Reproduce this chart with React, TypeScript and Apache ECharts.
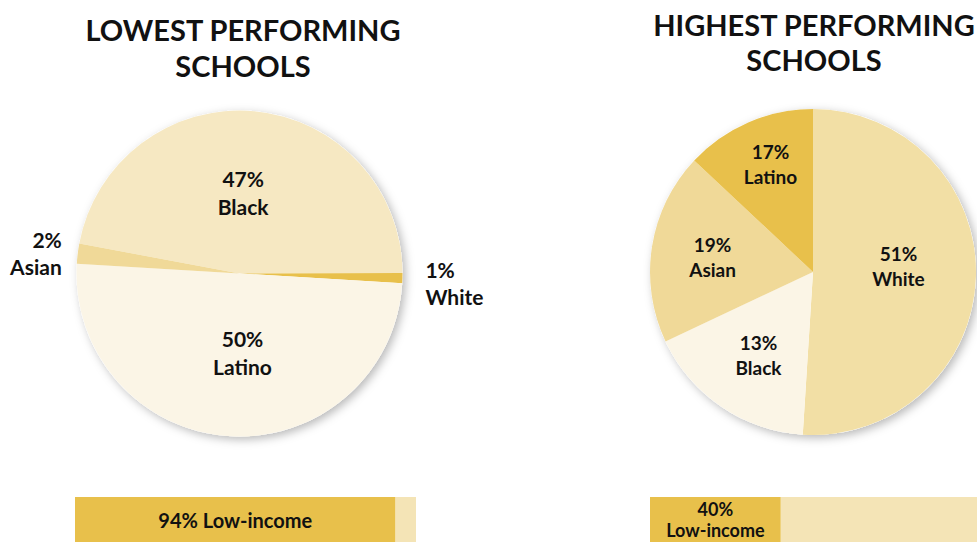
import React, { useEffect, useRef } from 'react';
import * as echarts from 'echarts';

// Lowest performing schools – racial breakdown (clockwise order)
const lowCategories = ['Black', 'White', 'Latino', 'Asian'];
const lowShares = [47, 1, 50, 2];
const lowColors = ['#F6E8C2', '#E8C04B', '#FBF5E6', '#F0D998'];

// Highest performing schools – racial breakdown (clockwise order)
const highCategories = ['White', 'Black', 'Asian', 'Latino'];
const highShares = [51, 17, 19, 13]; // slice sizes as drawn in the source
const highPrinted = [51, 13, 19, 17]; // percentages printed on the slices
const highColors = ['#F2DFA5', '#FBF5E6', '#F0D998', '#E8C04B'];

// Low-income share bars
const incomeLabel = 'Low-income';
const lowIncome = 94;
const highIncome = 40;

const FONT = 'Lato';

export default function App() {
  const ref = useRef<HTMLDivElement>(null);

  useEffect(() => {
    document.body.style.margin = '0';
    const chart = echarts.init(ref.current!, undefined, { renderer: 'svg' });

    const labelStyle = {
      fontFamily: FONT,
      fontWeight: 'bold' as const,
      color: '#111',
    };

    const lowOffsets: Record<number, [number, number]> = {
      0: [-4, 3],
      1: [0, 5],
      2: [8, -5],
      3: [0, 0],
    };
    const highOffsets: Record<number, [number, number]> = {
      0: [1, -9],
      1: [-7, 13],
      2: [-17, -2],
      3: [-9, -30],
    };

    const lowData = lowCategories.map((name, i) => {
      const outside = lowShares[i] < 5;
      return {
        name,
        value: lowShares[i],
        itemStyle: { color: lowColors[i] },
        label: outside
          ? {
              position: 'outside',
              fontSize: 21,
              lineHeight: 27,
            }
          : { position: 'inside', fontSize: 21, lineHeight: 28 },
        labelLine: outside
          ? { show: false, length: 8, length2: name === 'White' ? 10 : 3 }
          : { show: false },
      };
    });

    const highData = highCategories.map((name, i) => ({
      name,
      value: highShares[i],
      itemStyle: { color: highColors[i] },
    }));

    const backdrop = (center: [number, number]) => ({
      type: 'pie',
      center,
      radius: 163,
      silent: true,
      label: { show: false },
      labelLine: { show: false },
      itemStyle: {
        color: '#ffffff',
        shadowBlur: 10,
        shadowColor: 'rgba(0,0,0,0.28)',
        shadowOffsetX: 3,
        shadowOffsetY: 3,
      },
      data: [{ value: 1, name: '' }],
      z: 1,
    });

    const option: any = {
      animation: false,
      backgroundColor: '#ffffff',
      title: [
        {
          text: 'LOWEST PERFORMING\nSCHOOLS',
          left: 243,
          top: 11,
          padding: 0,
          textAlign: 'center',
          textStyle: { ...labelStyle, fontSize: 29, lineHeight: 36 },
        },
        {
          text: 'HIGHEST PERFORMING\nSCHOOLS',
          left: 814,
          top: 7,
          padding: 0,
          textAlign: 'center',
          textStyle: { ...labelStyle, fontSize: 29, lineHeight: 35 },
        },
      ],
      grid: [
        { left: 75, top: 497, width: 341, height: 50 },
        { left: 650, top: 497, width: 341, height: 50 },
      ],
      xAxis: [
        { type: 'value', gridIndex: 0, min: 0, max: 100, show: false },
        { type: 'value', gridIndex: 1, min: 0, max: 100, show: false },
      ],
      yAxis: [
        { type: 'category', gridIndex: 0, data: [incomeLabel], show: false },
        { type: 'category', gridIndex: 1, data: [incomeLabel], show: false },
      ],
      series: [
        backdrop([239.5, 273.5]),
        {
          type: 'pie',
          center: [239.5, 273.5],
          radius: 163,
          startAngle: 169.4,
          clockwise: true,
          avoidLabelOverlap: false,
          z: 2,
          itemStyle: { borderWidth: 0 },
          label: {
            ...labelStyle,
            formatter: (p: any) => `${p.value}%\n${p.name}`,
          },
          labelLayout: (p: any) => {
            const o = lowOffsets[p.dataIndex] || [0, 0];
            return { dx: o[0], dy: o[1] };
          },
          emphasis: { disabled: true },
          data: lowData,
        },
        backdrop([813, 272]),
        {
          type: 'pie',
          center: [813, 272],
          radius: 163,
          startAngle: 90,
          clockwise: true,
          avoidLabelOverlap: false,
          z: 2,
          itemStyle: { borderWidth: 0 },
          label: {
            ...labelStyle,
            position: 'inside',
            fontSize: 19,
            lineHeight: 25,
            formatter: (p: any) => `${highPrinted[p.dataIndex]}%\n${p.name}`,
          },
          labelLine: { show: false },
          labelLayout: (p: any) => {
            const o = highOffsets[p.dataIndex] || [0, 0];
            return { dx: o[0], dy: o[1] };
          },
          emphasis: { disabled: true },
          data: highData,
        },
        {
          type: 'bar',
          xAxisIndex: 0,
          yAxisIndex: 0,
          stack: 'low',
          barCategoryGap: 0,
          barWidth: '100%',
          itemStyle: { color: '#E8C04B' },
          label: {
            show: true,
            position: 'inside',
            ...labelStyle,
            fontSize: 20,
            formatter: (p: any) => `${p.value}% ${incomeLabel}`,
          },
          emphasis: { disabled: true },
          data: [lowIncome],
        },
        {
          type: 'bar',
          xAxisIndex: 0,
          yAxisIndex: 0,
          stack: 'low',
          barWidth: '100%',
          itemStyle: { color: '#F4E4B6' },
          emphasis: { disabled: true },
          data: [100 - lowIncome],
        },
        {
          type: 'bar',
          xAxisIndex: 1,
          yAxisIndex: 1,
          stack: 'high',
          barCategoryGap: 0,
          barWidth: '100%',
          itemStyle: { color: '#E8C04B' },
          label: {
            show: true,
            position: 'inside',
            ...labelStyle,
            fontSize: 18,
            lineHeight: 21,
            formatter: (p: any) => `${p.value}%\n${incomeLabel}`,
          },
          emphasis: { disabled: true },
          data: [highIncome],
        },
        {
          type: 'bar',
          xAxisIndex: 1,
          yAxisIndex: 1,
          stack: 'high',
          barWidth: '100%',
          itemStyle: { color: '#F4E4B6' },
          emphasis: { disabled: true },
          data: [100 - highIncome],
        },
      ],
    };

    chart.setOption(option);
    return () => chart.dispose();
  }, []);

  return <div ref={ref} style={{ width: 977, height: 542 }} />;
}
